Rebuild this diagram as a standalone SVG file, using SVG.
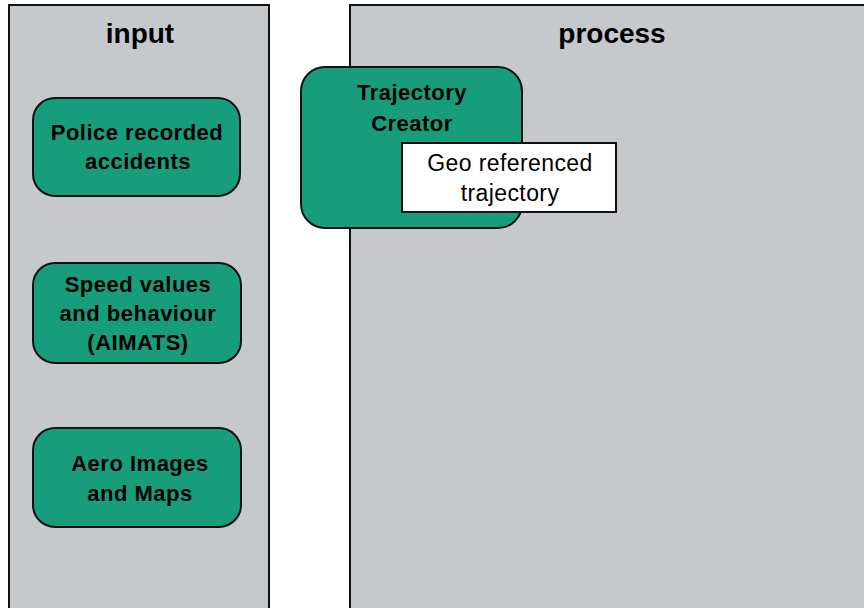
<svg xmlns="http://www.w3.org/2000/svg" width="864" height="608" viewBox="0 0 864 608">
  <style>
    .panel { fill: #c6c9cc; stroke: #111; stroke-width: 2; }
    .node { fill: #179d7c; stroke: #111; stroke-width: 2; }
    .note { fill: #fff; stroke: #111; stroke-width: 2; }
    .title { font-family: "Liberation Sans", Arial, sans-serif; font-weight: bold; font-size: 28px; fill: #000; text-anchor: middle; }
    .lbl { font-family: "Liberation Sans", Arial, sans-serif; font-weight: bold; font-size: 22px; letter-spacing: 0.5px; fill: #000; text-anchor: middle; }
    .txt { font-family: "Liberation Sans", Arial, sans-serif; font-size: 23px; letter-spacing: 0.4px; fill: #000; text-anchor: middle; }
  </style>
  <rect width="864" height="608" fill="#fff"/>

  <!-- swimlanes -->
  <g id="lane-input">
    <rect class="panel" x="9" y="5" width="260" height="620"/>
    <text class="title" x="140" y="43">input</text>
  </g>
  <g id="lane-process">
    <rect class="panel" x="350" y="5" width="540" height="620"/>
    <text class="title" x="612" y="43">process</text>
  </g>

  <!-- input nodes -->
  <g id="police">
    <rect class="node" x="33" y="98" width="207" height="98" rx="22"/>
    <text class="lbl" x="137" y="140">Police recorded</text>
    <text class="lbl" x="138" y="169">accidents</text>
  </g>
  <g id="speed">
    <rect class="node" x="33" y="263" width="208" height="100" rx="22"/>
    <text class="lbl" x="138" y="292">Speed values</text>
    <text class="lbl" x="138" y="321">and behaviour</text>
    <text class="lbl" x="138" y="350">(AIMATS)</text>
  </g>
  <g id="aero">
    <rect class="node" x="33" y="428" width="208" height="99" rx="22"/>
    <text class="lbl" x="140" y="471">Aero Images</text>
    <text class="lbl" x="140" y="501">and Maps</text>
  </g>

  <!-- process nodes -->
  <g id="trajectory-creator">
    <rect class="node" x="301" y="67" width="221" height="161" rx="24"/>
    <text class="lbl" x="412" y="100">Trajectory</text>
    <text class="lbl" x="412" y="131">Creator</text>
  </g>
  <g id="geo-trajectory">
    <rect class="note" x="402" y="143" width="214" height="69"/>
    <text class="txt" x="510" y="171">Geo referenced</text>
    <text class="txt" x="510" y="201">trajectory</text>
  </g>

  <g id="connectors"></g>
</svg>
